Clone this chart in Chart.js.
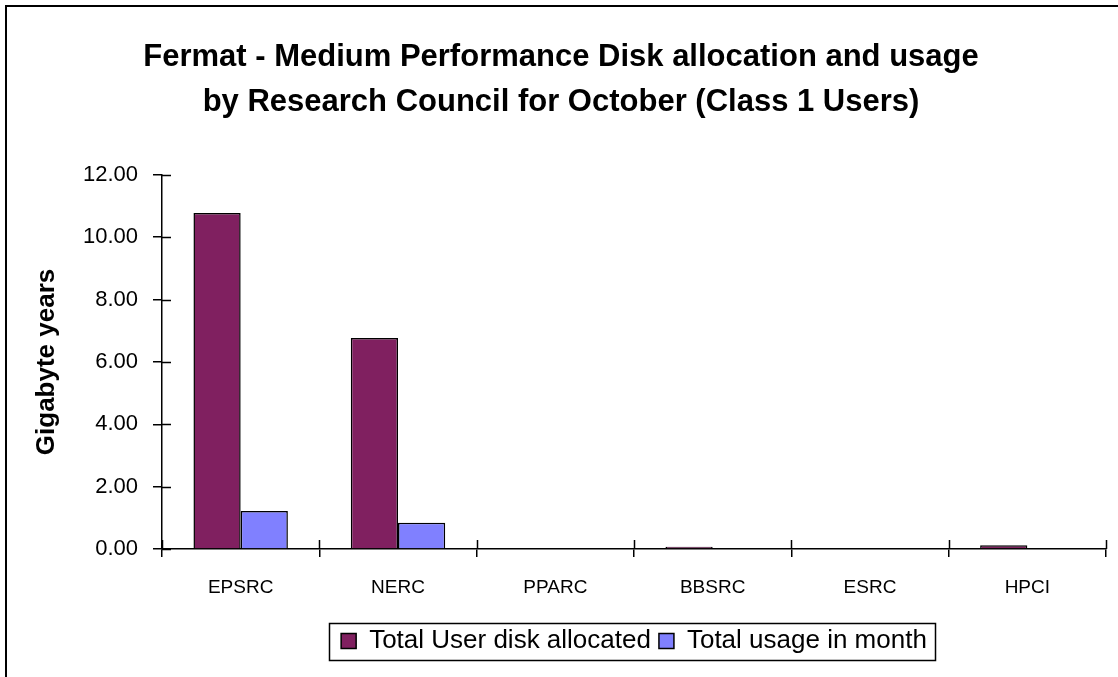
<!DOCTYPE html>
<html>
<head>
<meta charset="utf-8">
<script src="https://cdn.jsdelivr.net/npm/chart.js@4/dist/chart.umd.min.js"></script>
<style>
  html, body { margin: 0; padding: 0; background: #fff; }
  #wrap { position: relative; width: 1118px; height: 677px; }
</style>
</head>
<body>
<div id="wrap"><canvas id="diskChart" width="1118" height="677"></canvas></div>
<script>
// Research councils (x categories)
const councils = ['EPSRC', 'NERC', 'PPARC', 'BBSRC', 'ESRC', 'HPCI'];

// Gigabyte years
const allocated = [10.78, 6.77, 0, 0.07, 0, 0.12];
const usage     = [1.22, 0.84, 0, 0, 0, 0];

const yTicks = [0, 2, 4, 6, 8, 10, 12];

const titleLines = [
    'Fermat - Medium Performance Disk allocation and usage',
    'by Research Council for October (Class 1 Users)'
];

const FONT = "'Liberation Sans', Arial, sans-serif";
Chart.defaults.font.family = FONT;
Chart.defaults.color = '#000';

// outer frame (only top and left edges are visible in the picture)
const framePlugin = {
    id: 'frame',
    beforeDraw(chart) {
        const c = chart.ctx;
        c.save();
        c.fillStyle = '#fff';
        c.fillRect(0, 0, chart.width, chart.height);
        c.strokeStyle = '#000';
        c.lineWidth = 2;
        c.beginPath();
        c.moveTo(6, chart.height);
        c.lineTo(6, 6);
        c.lineTo(chart.width, 6);
        c.stroke();
        c.restore();
    }
};

// tick marks crossing the axes, like the old Excel charts
const crossTicks = {
    id: 'crossTicks',
    afterDraw(chart) {
        const c = chart.ctx;
        const x = chart.scales.x, y = chart.scales.y;
        c.save();
        c.strokeStyle = '#000';
        c.lineWidth = 1.5;
        c.beginPath();
        y.ticks.forEach((t, i) => {
            const py = Math.round(y.getPixelForTick(i)) + 0.5;
            c.moveTo(y.right, py);
            c.lineTo(y.right + 9, py);
        });
        for (let i = 0; i <= councils.length; i++) {
            const px = Math.round(x.getPixelForValue(i - 0.5)) + 0.5;
            c.moveTo(px, x.top);
            c.lineTo(px, x.top - 9);
        }
        c.stroke();

        // box around the legend
        const boxes = chart.legend.legendHitBoxes;
        if (boxes && boxes.length) {
            const l = Math.min(...boxes.map(b => b.left)) - 12;
            const r = Math.max(...boxes.map(b => b.left + b.width)) + 8;
            const t = Math.min(...boxes.map(b => b.top)) - 5;
            const b2 = Math.max(...boxes.map(b => b.top + b.height)) + 6;
            c.lineWidth = 1.5;
            c.strokeRect(Math.round(l) + 0.5, Math.round(t) + 0.5, Math.round(r - l), Math.round(b2 - t));
        }
        c.restore();
    }
};

new Chart(document.getElementById('diskChart'), {
    type: 'bar',
    data: {
        labels: councils,
        datasets: [{
            label: 'Total User disk allocated',
            data: allocated,
            backgroundColor: '#802060',
            borderColor: '#000',
            borderWidth: 1.5,
            categoryPercentage: 0.6,
            barPercentage: 1.0
        }, {
            label: 'Total usage in month',
            data: usage,
            backgroundColor: '#8080ff',
            borderColor: '#000',
            borderWidth: 1.5,
            categoryPercentage: 0.6,
            barPercentage: 1.0
        }]
    },
    options: {
        responsive: false,
        animation: false,
        devicePixelRatio: 1,
        layout: { padding: { top: 10, left: 16, right: 12, bottom: 13 } },
        plugins: {
            title: {
                display: true,
                text: titleLines,
                color: '#000',
                font: { size: 31, weight: 'bold', lineHeight: 1.45 },
                padding: { top: 25, bottom: 50 }
            },
            legend: {
                position: 'bottom',
                fullSize: false,
                labels: {
                    color: '#000',
                    font: { size: 26 },
                    boxWidth: 15,
                    boxHeight: 15,
                    padding: 8
                }
            },
            tooltip: { enabled: false }
        },
        scales: {
            x: {
                offset: true,
                grid: {
                    offset: true,
                    drawOnChartArea: false,
                    drawTicks: true,
                    tickLength: 8,
                    color: '#000',
                    lineWidth: 1.5
                },
                border: { color: '#000', width: 1.5 },
                ticks: { font: { size: 19 }, color: '#000', padding: 19, maxRotation: 0 },
                afterFit(scale) { scale.height = 71; }
            },
            y: {
                min: 0,
                max: 12,
                afterBuildTicks(scale) {
                    scale.ticks = yTicks.map(v => ({ value: v }));
                },
                grid: {
                    drawOnChartArea: false,
                    drawTicks: true,
                    tickLength: 9,
                    color: '#000',
                    lineWidth: 1.5
                },
                border: { color: '#000', width: 1.5 },
                ticks: {
                    font: { size: 22 },
                    color: '#000',
                    padding: 15,
                    callback: v => Number(v).toFixed(2)
                },
                title: {
                    display: true,
                    text: 'Gigabyte years',
                    color: '#000',
                    font: { size: 26, weight: 'bold' },
                    padding: { top: 15, bottom: 0 }
                },
                afterFit(scale) { scale.width = 146; }
            }
        }
    },
    plugins: [framePlugin, crossTicks]
});
</script>
</body>
</html>
